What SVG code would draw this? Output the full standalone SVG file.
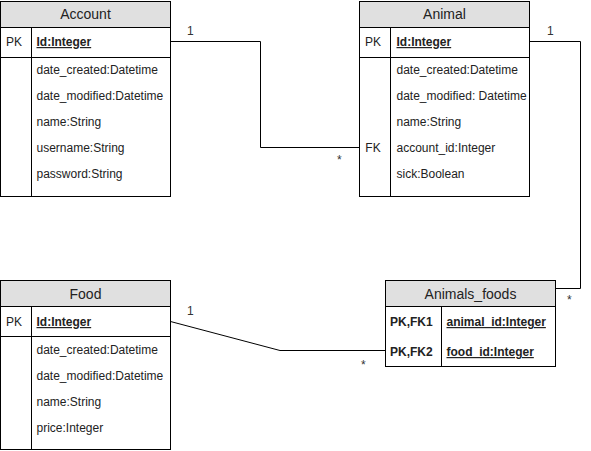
<svg xmlns="http://www.w3.org/2000/svg" width="591" height="451" viewBox="0 0 591 451">
<style>
.box{fill:#fff;stroke:#000;stroke-width:1}
.hdr{fill:#e0e0e0;stroke:#000;stroke-width:1}
.ln{stroke:#000;stroke-width:1;fill:none}
text{font-family:"Liberation Sans",Arial,sans-serif;fill:#222}
.t{font-size:14px;text-anchor:middle}
.f{font-size:12px}
.k{font-size:12px;text-anchor:middle}
.b{font-weight:bold}
.u{text-decoration:underline}
.lbl{font-size:12px;fill:#333}
</style>
<rect width="591" height="451" fill="#fff"/>
<g id="connectors">
<path class="ln" d="M170.5 41.5H260.5V147.5H359.5"/>
<path class="ln" d="M529.5 41.5H580.5V288.5H555.5"/>
<path class="ln" d="M170.5 321.5L280 350.5H385.5"/>
<text class="lbl" x="187" y="35">1</text>
<text class="lbl" x="337" y="164">*</text>
<text class="lbl" x="547" y="35">1</text>
<text class="lbl" x="567" y="304">*</text>
<text class="lbl" x="187" y="315">1</text>
<text class="lbl" x="361" y="369">*</text>
</g>
<g id="account">
<rect class="box" x="0.5" y="1.5" width="170" height="195"/>
<rect class="hdr" x="0.5" y="1.5" width="170" height="26"/>
<path class="ln" d="M0.5 57.5H170.5M31.5 27.5V196.5"/>
<text class="t" x="85.5" y="19">Account</text>
<text class="k" x="14" y="46">PK</text>
<text class="f b u" x="36.5" y="46">Id:Integer</text>
<text class="f" x="36.5" y="74">date_created:Datetime</text>
<text class="f" x="36.5" y="100">date_modified:Datetime</text>
<text class="f" x="36.5" y="126">name:String</text>
<text class="f" x="36.5" y="152">username:String</text>
<text class="f" x="36.5" y="178">password:String</text>
</g>
<g id="animal">
<rect class="box" x="359.5" y="1.5" width="170" height="195"/>
<rect class="hdr" x="359.5" y="1.5" width="170" height="26"/>
<path class="ln" d="M359.5 57.5H529.5M390.5 27.5V196.5"/>
<text class="t" x="444.5" y="19">Animal</text>
<text class="k" x="373" y="46">PK</text>
<text class="f b u" x="396.5" y="46">Id:Integer</text>
<text class="f" x="396.5" y="74">date_created:Datetime</text>
<text class="f" x="396.5" y="100">date_modified: Datetime</text>
<text class="f" x="396.5" y="126">name:String</text>
<text class="k" x="373" y="152">FK</text>
<text class="f" x="396.5" y="152">account_id:Integer</text>
<text class="f" x="396.5" y="178">sick:Boolean</text>
</g>
<g id="food">
<rect class="box" x="0.5" y="280.5" width="170" height="169"/>
<rect class="hdr" x="0.5" y="280.5" width="170" height="26"/>
<path class="ln" d="M0.5 336.5H170.5M31.5 306.5V449.5"/>
<text class="t" x="85.5" y="299">Food</text>
<text class="k" x="14" y="326">PK</text>
<text class="f b u" x="36.5" y="326">Id:Integer</text>
<text class="f" x="36.5" y="354">date_created:Datetime</text>
<text class="f" x="36.5" y="380">date_modified:Datetime</text>
<text class="f" x="36.5" y="406">name:String</text>
<text class="f" x="36.5" y="432">price:Integer</text>
</g>
<g id="animals_foods">
<rect class="box" x="385.5" y="280.5" width="170" height="86"/>
<rect class="hdr" x="385.5" y="280.5" width="170" height="26"/>
<path class="ln" d="M441.5 306.5V366.5"/>
<text class="t" x="470.5" y="299">Animals_foods</text>
<text class="f b" x="390" y="326">PK,FK1</text>
<text class="f b u" x="446.5" y="326">animal_id:Integer</text>
<text class="f b" x="390" y="356">PK,FK2</text>
<text class="f b u" x="446.5" y="356">food_id:Integer</text>
</g>
</svg>
